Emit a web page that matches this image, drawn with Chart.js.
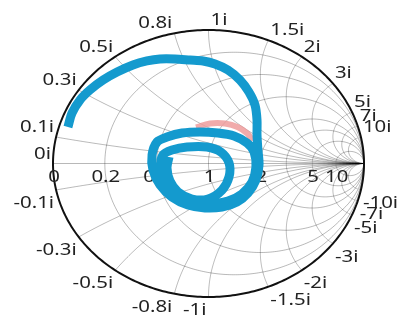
<!DOCTYPE html>
<html>
<head>
<meta charset="utf-8">
<script src="https://cdn.jsdelivr.net/npm/chart.js@4/dist/chart.umd.min.js"></script>
<style>
  html, body { margin: 0; padding: 0; background: #fff; }
  canvas { display: block; }
</style>
</head>
<body>
<canvas id="smith" width="401" height="327"></canvas>
<script>
// Smith chart grid values (normalized impedance)
const resistanceTicks = [0, 0.2, 0.5, 1, 2, 5, 10];
const resistanceGrid = [0.2, 0.5, 1, 2, 3, 5, 10];
const reactanceTicks = [0.1, 0.3, 0.5, 0.8, 1, 1.5, 2, 3, 5, 7, 10];

// Reflection coefficient trace (real / imaginary parts of gamma)
const s11Re = [-0.904, -0.878, -0.826, -0.762, -0.678, -0.588, -0.486, -0.396, -0.312, -0.215,
  -0.119, -0.035, 0.042, 0.125, 0.203, 0.260, 0.299, 0.312, 0.312, 0.318,
  0.325, 0.305, 0.254, 0.183, 0.087, -0.023, -0.132, -0.235, -0.312, -0.357,
  -0.363, -0.331, -0.267, -0.170, -0.055, 0.061, 0.164, 0.248, 0.293, 0.305,
  0.280, 0.215, 0.125, 0.010, -0.106, -0.203, -0.273, -0.305, -0.293, -0.235,
  -0.138, -0.010, 0.080, 0.132, 0.132, 0.087, -0.003, -0.106, -0.196, -0.248,
  -0.267, -0.254];
const s11Im = [0.273, 0.378, 0.476, 0.551, 0.625, 0.685, 0.738, 0.768, 0.783, 0.783,
  0.775, 0.768, 0.745, 0.700, 0.625, 0.536, 0.438, 0.326, 0.213, 0.101,
  -0.011, -0.124, -0.221, -0.288, -0.326, -0.333, -0.311, -0.251, -0.161, -0.049,
  0.064, 0.161, 0.198, 0.228, 0.236, 0.228, 0.206, 0.153, 0.086, -0.026,
  -0.139, -0.228, -0.281, -0.303, -0.288, -0.228, -0.139, -0.026, 0.064, 0.101,
  0.124, 0.124, 0.086, 0.004, -0.101, -0.199, -0.266, -0.266, -0.213, -0.131,
  -0.034, 0.049];

// Second trace, mostly hidden under the first
const refRe = [-0.080, 0.010, 0.106, 0.190, 0.250, 0.285];
const refIm = [0.270, 0.300, 0.300, 0.272, 0.225, 0.170];

const toPoints = (re, im) => re.map((v, i) => ({ x: v, y: im[i] }));

const FONT = '17px "Noto Sans", "Open Sans", sans-serif';
const TEXT_STRETCH = 1.2;

function gammaOf(r, x) {
  // gamma = (z - 1) / (z + 1), z = r + jx
  const a = r - 1, b = x, c = r + 1, d = x;
  const den = c * c + d * d;
  return { re: (a * c + b * d) / den, im: (b * c - a * d) / den };
}

function drawText(ctx, text, x, y, align) {
  ctx.save();
  ctx.translate(x, y);
  ctx.scale(TEXT_STRETCH, 1);
  ctx.textAlign = align;
  ctx.textBaseline = 'alphabetic';
  ctx.fillText(text, 0, 0);
  ctx.restore();
}

const smithGrid = {
  id: 'smithGrid',
  beforeDatasetsDraw(chart) {
    const ctx = chart.ctx;
    const xs = chart.scales.x, ys = chart.scales.y;
    const P = (g) => [xs.getPixelForValue(g.re), ys.getPixelForValue(g.im)];

    ctx.save();
    ctx.strokeStyle = 'rgba(0,0,0,0.28)';
    ctx.lineWidth = 1;

    // constant-resistance circles
    resistanceGrid.forEach(r => {
      ctx.beginPath();
      for (let i = 0; i <= 400; i++) {
        const phi = -Math.PI / 2 + 1e-4 + (Math.PI - 2e-4) * i / 400;
        const [px, py] = P(gammaOf(r, Math.tan(phi)));
        i === 0 ? ctx.moveTo(px, py) : ctx.lineTo(px, py);
      }
      ctx.stroke();
    });

    // constant-reactance arcs
    reactanceTicks.forEach(xv => {
      [xv, -xv].forEach(x => {
        ctx.beginPath();
        for (let i = 0; i <= 300; i++) {
          const phi = (Math.PI / 2 - 1e-4) * i / 300;
          const [px, py] = P(gammaOf(Math.tan(phi), x));
          i === 0 ? ctx.moveTo(px, py) : ctx.lineTo(px, py);
        }
        ctx.stroke();
      });
    });

    // real axis
    ctx.beginPath();
    ctx.moveTo(xs.getPixelForValue(-1), ys.getPixelForValue(0));
    ctx.lineTo(xs.getPixelForValue(1), ys.getPixelForValue(0));
    ctx.stroke();

    // outer boundary |gamma| = 1
    ctx.strokeStyle = '#111';
    ctx.lineWidth = 2;
    ctx.beginPath();
    for (let i = 0; i <= 360; i++) {
      const t = 2 * Math.PI * i / 360;
      const px = xs.getPixelForValue(Math.cos(t)), py = ys.getPixelForValue(Math.sin(t));
      i === 0 ? ctx.moveTo(px, py) : ctx.lineTo(px, py);
    }
    ctx.stroke();

    // labels
    ctx.fillStyle = '#222';
    ctx.font = FONT;
    resistanceTicks.forEach(r => {
      const [px, py] = P(gammaOf(r, 0));
      drawText(ctx, String(r), px + 1, py + 18, 'center');
    });
    const [zx, zy] = P(gammaOf(0, 0));
    drawText(ctx, '0i', zx - 2, zy - 5, 'right');
    reactanceTicks.forEach(xv => {
      const gu = gammaOf(0, xv);
      let [px, py] = P(gu);
      let left = gu.re < -1e-9;
      drawText(ctx, xv + 'i', left ? px - 2 : px + 2, py - 5, left ? 'right' : 'left');
      const gl = gammaOf(0, -xv);
      [px, py] = P(gl);
      left = gl.re <= 1e-9;
      drawText(ctx, '-' + xv + 'i', left ? px - 2 : px + 2, py + 18, left ? 'right' : 'left');
    });
    ctx.restore();
  }
};

new Chart(document.getElementById('smith'), {
  type: 'scatter',
  data: {
    datasets: [
      {
        label: 'S11',
        data: toPoints(s11Re, s11Im),
        showLine: true,
        borderColor: 'rgb(20,154,206)',
        borderWidth: 9,
        borderJoinStyle: 'round',
        borderCapStyle: 'butt',
        tension: 0.3,
        pointRadius: 0,
        clip: false,
        order: 1
      },
      {
        label: 'S22',
        data: toPoints(refRe, refIm),
        showLine: true,
        borderColor: 'rgba(238,150,150,0.8)',
        borderWidth: 6,
        tension: 0.4,
        pointRadius: 0,
        clip: false,
        order: 2
      }
    ]
  },
  options: {
    responsive: false,
    animation: false,
    layout: { padding: { left: 53, right: 37, top: 30, bottom: 30 } },
    plugins: { legend: { display: false }, tooltip: { enabled: false } },
    scales: {
      x: { type: 'linear', min: -1, max: 1, display: false },
      y: { type: 'linear', min: -1, max: 1, display: false }
    }
  },
  plugins: [smithGrid]
});
</script>
</body>
</html>
